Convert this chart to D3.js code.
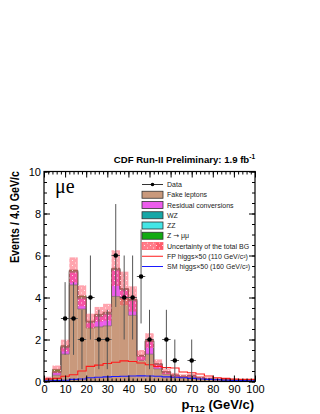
<!DOCTYPE html>
<html>
<head>
<meta charset="utf-8">
<script src="https://cdn.jsdelivr.net/npm/d3@7"></script>
<style>
  body { margin: 0; background: #fff; }
  .chan { font-family: "Liberation Serif", "DejaVu Serif", serif; }
</style>
</head>
<body>
<svg id="chart" width="320" height="414" font-family='"Liberation Sans", Arial, sans-serif'></svg>
<script>

// bin centres, 4 GeV bins from 0 to 100
var binCenters = [2, 6, 10, 14, 18, 22, 26, 30, 34, 38, 42, 46, 50, 54, 58, 62, 66, 70, 74, 78, 82, 86, 90, 94, 98];

// stacked backgrounds
var fakeLeptons = [0.08, 0.3, 1.3, 4.6, 3.45, 2.55, 2.6, 2.65, 4.05, 3.95, 3.15, 1.0, 1.3, 0.6, 0.35, 0.22, 0.18, 0.2, 0.14, 0.1, 0.07, 0.08, 0.06, 0.05, 0.04];
var residualConv = [0.03, 0.12, 0.3, 0.6, 0.5, 0.25, 0.5, 0.55, 1.25, 0.4, 0.7, 0.2, 0.6, 0.2, 0.08, 0.06, 0.05, 0.06, 0.04, 0.03, 0.02, 0.02, 0.02, 0.01, 0.01];
var wzBg = [0.01, 0.03, 0.04, 0.05, 0.05, 0.04, 0.05, 0.05, 0.05, 0.04, 0.04, 0.03, 0.03, 0.03, 0.02, 0.02, 0.02, 0.02, 0.01, 0.01, 0.01, 0.01, 0.01, 0.01, 0.01];
var zzBg = [0.005, 0.01, 0.02, 0.02, 0.02, 0.02, 0.02, 0.02, 0.02, 0.02, 0.02, 0.01, 0.01, 0.01, 0.01, 0.01, 0.01, 0.01, 0.005, 0.005, 0.005, 0.005, 0.005, 0.005, 0.005];
var zmumuBg = [0.02, 0.12, 0.05, 0.04, 0.06, 0.02, 0.03, 0.03, 0.03, 0.02, 0.02, 0.01, 0.01, 0.01, 0.01, 0, 0, 0, 0, 0, 0, 0, 0, 0, 0];
var bgError = [0.08, 0.18, 0.28, 0.6, 0.5, 0.35, 0.35, 0.4, 0.85, 0.8, 0.6, 0.25, 0.35, 0.2, 0.12, 0.1, 0.08, 0.08, 0.07, 0.06, 0.05, 0.05, 0.04, 0.04, 0.04];

// signal lines (x50)
var fpHiggs = [0.12, 0.15, 0.25, 0.32, 0.5, 0.72, 0.78, 0.86, 0.92, 0.98, 0.95, 0.88, 0.8, 0.72, 0.66, 0.64, 0.45, 0.42, 0.36, 0.26, 0.18, 0.15, 0.12, 0.1, 0.1];
var smHiggs = [0.03, 0.04, 0.06, 0.1, 0.12, 0.18, 0.2, 0.22, 0.24, 0.25, 0.26, 0.27, 0.26, 0.25, 0.22, 0.2, 0.18, 0.15, 0.12, 0.1, 0.08, 0.06, 0.05, 0.04, 0.03];

// data
var dataX = [10, 14, 18, 22, 26, 30, 34, 38, 42, 46, 50, 58, 62, 70];
var dataY = [3, 3, 2, 4, 2, 2, 6, 4, 4, 5, 2, 2, 1, 1];

var xTicks = [0, 10, 20, 30, 40, 50, 60, 70, 80, 90, 100];
var yTicks = [0, 2, 4, 6, 8, 10];

var binWidth = 4;

var svg = d3.select('#chart');

var x = d3.scaleLinear().domain([0, 100]).range([44, 255]);
var y = d3.scaleLinear().domain([0, 10]).range([381.5, 171.5]);

var stackNames = ['fake', 'conv', 'wz', 'zz', 'zmm'];
var stackColors = { fake: '#c9997c', conv: '#ec5cec', wz: '#16a7a7', zz: '#44e6e6', zmm: '#12aa12' };

var rows = binCenters.map(function (c, i) {
	return { c: c, fake: fakeLeptons[i], conv: residualConv[i], wz: wzBg[i], zz: zzBg[i], zmm: zmumuBg[i] };
});

var stacked = d3.stack().keys(stackNames)(rows);

// pattern for the uncertainty band
var defs = svg.append('defs');
var pat = defs.append('pattern')
	.attr('id', 'uncPat')
	.attr('patternUnits', 'userSpaceOnUse')
	.attr('width', 6).attr('height', 5);
pat.append('rect').attr('width', 6).attr('height', 5).attr('fill', '#ff4a5e').attr('opacity', 0.5);
pat.append('rect').attr('x', 0).attr('y', 0).attr('width', 1).attr('height', 1).attr('fill', '#fff').attr('opacity', 0.8);
pat.append('rect').attr('x', 3).attr('y', 2.5).attr('width', 1).attr('height', 1).attr('fill', '#fff').attr('opacity', 0.8);

var plot = svg.append('g');

// stack fills
stacked.forEach(function (layer) {
	plot.append('g').selectAll('rect')
		.data(layer)
		.enter().append('rect')
		.attr('x', function (d) { return x(d.data.c - binWidth / 2); })
		.attr('width', x(binWidth) - x(0))
		.attr('y', function (d) { return y(d[1]); })
		.attr('height', function (d) { return Math.max(0, y(d[0]) - y(d[1])); })
		.attr('fill', stackColors[layer.key]);
});

// step outline on top of each component
var stepLine = d3.line()
	.x(function (d) { return x(d[0]); })
	.y(function (d) { return y(d[1]); });

function stepPoints(vals) {
	var pts = [];
	vals.forEach(function (v, i) {
		pts.push([binCenters[i] - binWidth / 2, v]);
		pts.push([binCenters[i] + binWidth / 2, v]);
	});
	return pts;
}

stacked.forEach(function (layer) {
	plot.append('path')
		.attr('d', stepLine(stepPoints(layer.map(function (d) { return d[1]; }))))
		.attr('fill', 'none')
		.attr('stroke', '#6b5a55')
		.attr('stroke-width', 0.6);
});

// uncertainty of total BG
var totals = stacked[stacked.length - 1].map(function (d) { return d[1]; });

plot.append('g').selectAll('rect')
	.data(binCenters)
	.enter().append('rect')
	.attr('x', function (c) { return x(c - binWidth / 2); })
	.attr('width', x(binWidth) - x(0))
	.attr('y', function (c, i) { return y(totals[i] + bgError[i]); })
	.attr('height', function (c, i) { return y(Math.max(0, totals[i] - bgError[i])) - y(totals[i] + bgError[i]); })
	.attr('fill', 'url(#uncPat)');

// higgs x50 lines
plot.append('path')
	.attr('d', stepLine(stepPoints(fpHiggs)))
	.attr('fill', 'none')
	.attr('stroke', '#ff1a1a')
	.attr('stroke-width', 1.1);

plot.append('path')
	.attr('d', stepLine(stepPoints(smHiggs)))
	.attr('fill', 'none')
	.attr('stroke', '#1a1aff')
	.attr('stroke-width', 1.1);

// data points with sqrt(n) errors
var dpts = plot.append('g');
dataX.forEach(function (xv, i) {
	var n = dataY[i];
	var e = Math.sqrt(n);
	dpts.append('line')
		.attr('x1', x(xv)).attr('x2', x(xv))
		.attr('y1', y(n + e)).attr('y2', y(Math.max(0, n - e)))
		.attr('stroke', '#555').attr('stroke-width', 1);
	dpts.append('line')
		.attr('x1', x(xv - binWidth / 2)).attr('x2', x(xv + binWidth / 2))
		.attr('y1', y(n)).attr('y2', y(n))
		.attr('stroke', '#555').attr('stroke-width', 1);
	dpts.append('circle')
		.attr('cx', x(xv)).attr('cy', y(n)).attr('r', 2.3)
		.attr('fill', '#000');
});

// axes, ticks pointing inward like ROOT
var minorX = d3.range(0, 101, 2);
var minorY = d3.range(0, 10.01, 0.5);

function ticksOnly(axis) {
	return function (g) {
		g.call(axis);
		g.select('.domain').remove();
		g.selectAll('line').attr('stroke', '#000');
		g.attr('font-family', null);
	};
}

svg.append('g').attr('transform', 'translate(0,' + y(0) + ')')
	.call(ticksOnly(d3.axisBottom(x).tickValues(minorX).tickSize(-3).tickFormat('')));
svg.append('g').attr('transform', 'translate(0,' + y(10) + ')')
	.call(ticksOnly(d3.axisTop(x).tickValues(minorX).tickSize(-3).tickFormat('')));
svg.append('g').attr('transform', 'translate(0,' + y(10) + ')')
	.call(ticksOnly(d3.axisTop(x).tickValues(xTicks).tickSize(-6).tickFormat('')));
svg.append('g').attr('transform', 'translate(' + x(0) + ',0)')
	.call(ticksOnly(d3.axisLeft(y).tickValues(minorY).tickSize(-3).tickFormat('')));
svg.append('g').attr('transform', 'translate(' + x(100) + ',0)')
	.call(ticksOnly(d3.axisRight(y).tickValues(minorY).tickSize(-3).tickFormat('')));
svg.append('g').attr('transform', 'translate(' + x(100) + ',0)')
	.call(ticksOnly(d3.axisRight(y).tickValues(yTicks).tickSize(-6).tickFormat('')));

var xAxis = svg.append('g').attr('transform', 'translate(0,' + y(0) + ')')
	.call(ticksOnly(d3.axisBottom(x).tickValues(xTicks).tickSize(-6).tickPadding(4)));
xAxis.selectAll('text').attr('font-size', 11).attr('fill', '#000');

var yAxis = svg.append('g').attr('transform', 'translate(' + x(0) + ',0)')
	.call(ticksOnly(d3.axisLeft(y).tickValues(yTicks).tickSize(-6).tickPadding(3)));
yAxis.selectAll('text').attr('font-size', 11).attr('fill', '#000');

// frame
svg.append('rect')
	.attr('x', x(0)).attr('y', y(10))
	.attr('width', x(100) - x(0)).attr('height', y(0) - y(10))
	.attr('fill', 'none').attr('stroke', '#000').attr('stroke-width', 1.2);

// titles
var title = svg.append('text')
	.attr('x', 255).attr('y', 163)
	.attr('text-anchor', 'end')
	.attr('font-size', 9.6).attr('font-weight', 'bold')
	.text('CDF Run-II Preliminary:  1.9 fb');
title.append('tspan').attr('dy', -4.5).attr('font-size', 6.5).text('-1');

svg.append('text')
	.attr('transform', 'translate(19,171) rotate(-90)')
	.attr('text-anchor', 'end')
	.attr('font-size', 12.5).attr('font-weight', 'bold')
	.attr('textLength', 92).attr('lengthAdjust', 'spacingAndGlyphs')
	.text('Events / 4.0 GeV/c');

var xt = svg.append('text')
	.attr('x', 254).attr('y', 409)
	.attr('text-anchor', 'end')
	.attr('font-size', 13).attr('font-weight', 'bold');
xt.append('tspan').text('p');
xt.append('tspan').attr('dy', 3).attr('font-size', 9).text('T12');
xt.append('tspan').attr('dy', -3).text(' (GeV/c)');

// channel label, times-like
svg.append('text')
	.attr('class', 'chan')
	.attr('x', 55).attr('y', 193)
	.style('font-family', '"Liberation Serif", "DejaVu Serif", serif')
	.attr('font-size', 20)
	.text('\u03bce');

// legend
var legItems = [
	{ label: 'Data', kind: 'data' },
	{ label: 'Fake leptons', kind: 'box', color: stackColors.fake },
	{ label: 'Residual conversions', kind: 'box', color: stackColors.conv },
	{ label: 'WZ', kind: 'box', color: stackColors.wz },
	{ label: 'ZZ', kind: 'box', color: stackColors.zz },
	{ label: 'Z \u2192 \u03bc\u03bc', kind: 'box', color: stackColors.zmm },
	{ label: 'Uncertainty of the total BG', kind: 'unc' },
	{ label: 'FP higgs\u00d750 (110 GeV/c\u00b2)', kind: 'line', color: '#ff1a1a' },
	{ label: 'SM higgs\u00d750 (160 GeV/c\u00b2)', kind: 'line', color: '#1a1aff' }
];

var leg = svg.append('g');
legItems.forEach(function (it, i) {
	var ly = 184.5 + i * 10.25;
	if (it.kind === 'data') {
		leg.append('line').attr('x1', 142).attr('x2', 163).attr('y1', ly).attr('y2', ly)
			.attr('stroke', '#000').attr('stroke-width', 0.8);
		leg.append('circle').attr('cx', 152.5).attr('cy', ly).attr('r', 1.8).attr('fill', '#000');
	} else if (it.kind === 'box') {
		leg.append('rect').attr('x', 142).attr('y', ly - 3.5).attr('width', 21).attr('height', 7)
			.attr('fill', it.color).attr('stroke', '#333').attr('stroke-width', 0.8);
	} else if (it.kind === 'unc') {
		leg.append('rect').attr('x', 142).attr('y', ly - 3.5).attr('width', 21).attr('height', 7)
			.attr('fill', '#ffb3b8').attr('stroke', '#ff6d78').attr('stroke-width', 0.8);
		leg.append('rect').attr('x', 156).attr('y', ly - 3.5).attr('width', 7).attr('height', 7)
			.attr('fill', '#ff6d78');
		leg.append('rect').attr('x', 142).attr('y', ly - 3.5).attr('width', 21).attr('height', 7)
			.attr('fill', 'url(#uncPat)');
	} else {
		leg.append('line').attr('x1', 142).attr('x2', 163).attr('y1', ly).attr('y2', ly)
			.attr('stroke', it.color).attr('stroke-width', 1);
	}
	var t = leg.append('text').attr('x', 167).attr('y', ly + 2.5)
		.attr('font-size', 7).attr('fill', '#222');
	if (it.label.indexOf('\u2192') >= 0) {
		// arrow glyph needs DejaVu
		t.append('tspan').text('Z ');
		t.append('tspan').attr('font-family', '"DejaVu Sans", sans-serif').text('\u2192');
		t.append('tspan').text(' \u03bc\u03bc');
	} else {
		t.text(it.label);
	}
});

</script>
</body>
</html>
